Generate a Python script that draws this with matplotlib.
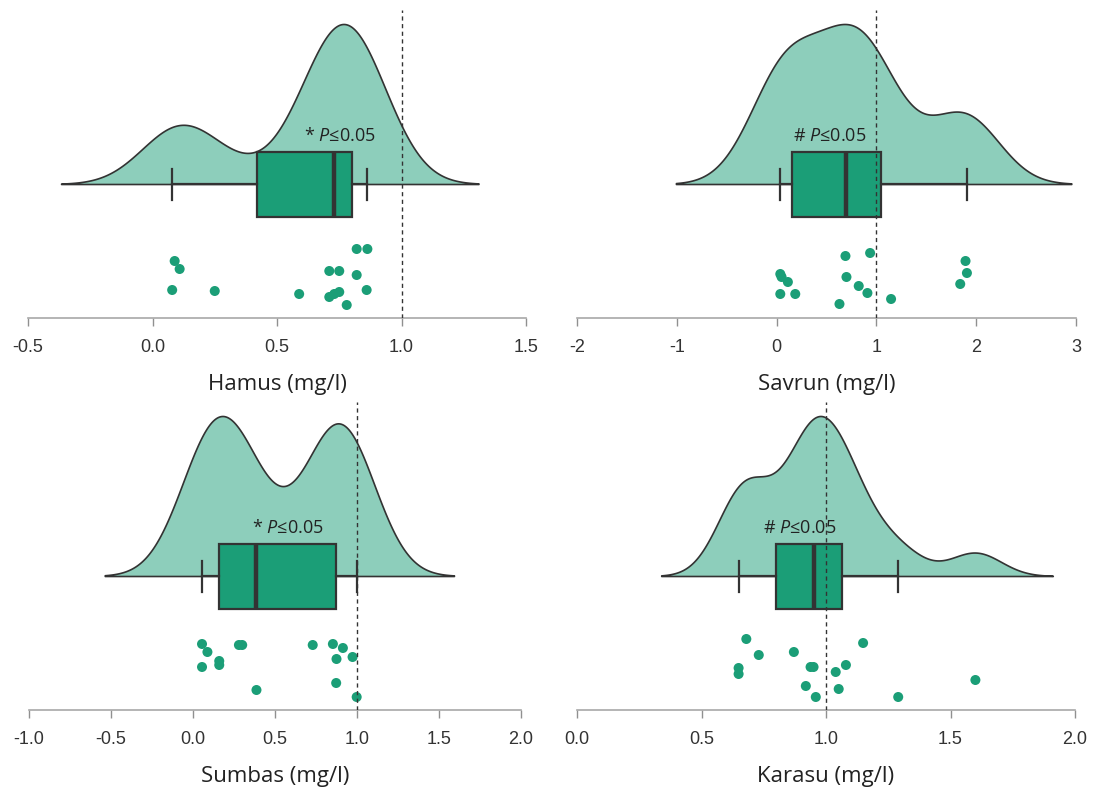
import matplotlib
matplotlib.use("Agg")
import matplotlib.pyplot as plt
import numpy as np

plt.rcParams["font.family"] = ["Liberation Sans", "DejaVu Sans"]
plt.rcParams["mathtext.fontset"] = "custom"
plt.rcParams["mathtext.it"] = "Open Sans:italic"
plt.rcParams["mathtext.rm"] = "Open Sans"

# values (mg/l) and the vertical jitter of each dot
hamus = [0.089, 0.109, 0.079, 0.25, 0.589, 0.71, 0.75, 0.82, 0.863, 0.82, 0.86, 0.71, 0.73, 0.75, 0.78]
hamus_jit = [57, 49, 28, 27, 24, 47, 47, 69, 69, 43, 28, 21, 24, 26, 13]

savrun = [0.037, 0.05, 0.113, 0.037, 0.187, 0.63, 0.69, 0.70, 0.823, 0.91, 0.937, 1.147, 1.84, 1.907, 1.893]
savrun_jit = [44, 41, 36, 24, 24, 14, 62, 41, 32, 25, 65, 19, 34, 45, 57]

sumbas = [0.055, 0.088, 0.055, 0.16, 0.16, 0.28, 0.30, 0.387, 0.73, 0.853, 0.914, 0.875, 0.973, 0.873, 0.998]
sumbas_jit = [66, 58, 43, 49, 45, 65, 65, 20, 65, 66, 62, 51, 53, 27, 13]

karasu = [0.68, 0.73, 0.649, 0.649, 0.871, 0.938, 0.95, 0.919, 0.959, 1.039, 1.051, 1.08, 1.149, 1.29, 1.60]
karasu_jit = [71, 55, 42, 36, 58, 43, 43, 24, 13, 38, 21, 45, 67, 13, 30]

labels = ["Hamus (mg/l)", "Savrun (mg/l)", "Sumbas (mg/l)", "Karasu (mg/l)"]
notes = ["* $P$≤0.05", "# $P$≤0.05", "* $P$≤0.05", "# $P$≤0.05"]
note_x = [0.753, 0.535, 0.579, 0.896]
limit = 1.0

ticks_a = [-0.5, 0.0, 0.5, 1.0, 1.5]
ticks_b = [-2, -1, 0, 1, 2, 3]
ticks_c = [-1.0, -0.5, 0.0, 0.5, 1.0, 1.5, 2.0]
ticks_d = [0.0, 0.5, 1.0, 1.5, 2.0]

GREEN = "#1B9E77"
LIGHT = "#8DCEBB"
DARK = "#333333"
BASE = 134
HEIGHT = 160


def kde_curve(v):
    v = np.asarray(v)
    q75, q25 = np.percentile(v, [75, 25])
    bw = 0.9 * min(v.std(ddof=1), (q75 - q25) / 1.34) * len(v) ** -0.2
    grid = np.linspace(v.min() - 3 * bw, v.max() + 3 * bw, 600)
    dens = np.exp(-0.5 * ((grid[:, None] - v[None, :]) / bw) ** 2).sum(1)
    return grid, dens / dens.max()


def draw_panel(ax, vals, jit, ticks, ticklabels, label, note, nx):
    grid, dens = kde_curve(vals)
    ax.fill_between(grid, BASE, BASE + HEIGHT * dens, facecolor=LIGHT,
                    edgecolor=DARK, lw=1.2, zorder=1)
    ax.boxplot(vals, orientation="horizontal", positions=[BASE], widths=65,
               showfliers=False, patch_artist=True, capwidths=31,
               boxprops=dict(facecolor=GREEN, edgecolor=DARK, lw=1.6),
               medianprops=dict(color=DARK, lw=3.2),
               whiskerprops=dict(color=DARK, lw=1.6),
               capprops=dict(color=DARK, lw=1.6), zorder=2)
    ax.scatter(vals, jit, s=52, color=GREEN, edgecolors="none", zorder=3)
    ax.axvline(limit, color=DARK, ls=(0, (3, 2.5)), lw=1.0, zorder=4)
    ax.text(nx, BASE + 48, note, ha="center", va="center", fontsize=13,
            family="Open Sans", color="#222222", zorder=5)

    ax.set_xlim(ticks[0], ticks[-1])
    ax.set_ylim(0, 308)
    ax.set_xticks(ticks)
    ax.set_xticklabels(ticklabels)
    ax.set_yticks([])
    for s in ["top", "right", "left"]:
        ax.spines[s].set_visible(False)
    ax.spines["bottom"].set_color("#A8A8A8")
    ax.spines["bottom"].set_linewidth(1.2)
    ax.tick_params(axis="x", length=6, width=1, color="#909090",
                   labelsize=13, labelcolor="#333333", pad=9)
    ax.set_xlabel(label, family="Open Sans", fontsize=16, color="#222222",
                  labelpad=13)
    ax.patch.set_alpha(0)


fig = plt.figure(figsize=(10.94, 7.94), dpi=100)
W, H = 1094, 794
ax1 = fig.add_axes([28 / W, 1 - 318 / H, 498 / W, 308 / H])
ax2 = fig.add_axes([577 / W, 1 - 318 / H, 499 / W, 308 / H])
ax3 = fig.add_axes([29 / W, 1 - 710 / H, 492 / W, 308 / H])
ax4 = fig.add_axes([577 / W, 1 - 710 / H, 498 / W, 308 / H])

draw_panel(ax1, hamus, hamus_jit, ticks_a, ["%.1f" % t for t in ticks_a], labels[0], notes[0], note_x[0])
draw_panel(ax2, savrun, savrun_jit, ticks_b, [str(t) for t in ticks_b], labels[1], notes[1], note_x[1])
draw_panel(ax3, sumbas, sumbas_jit, ticks_c, ["%.1f" % t for t in ticks_c], labels[2], notes[2], note_x[2])
draw_panel(ax4, karasu, karasu_jit, ticks_d, ["%.1f" % t for t in ticks_d], labels[3], notes[3], note_x[3])

fig.savefig("out.png", dpi=100)
